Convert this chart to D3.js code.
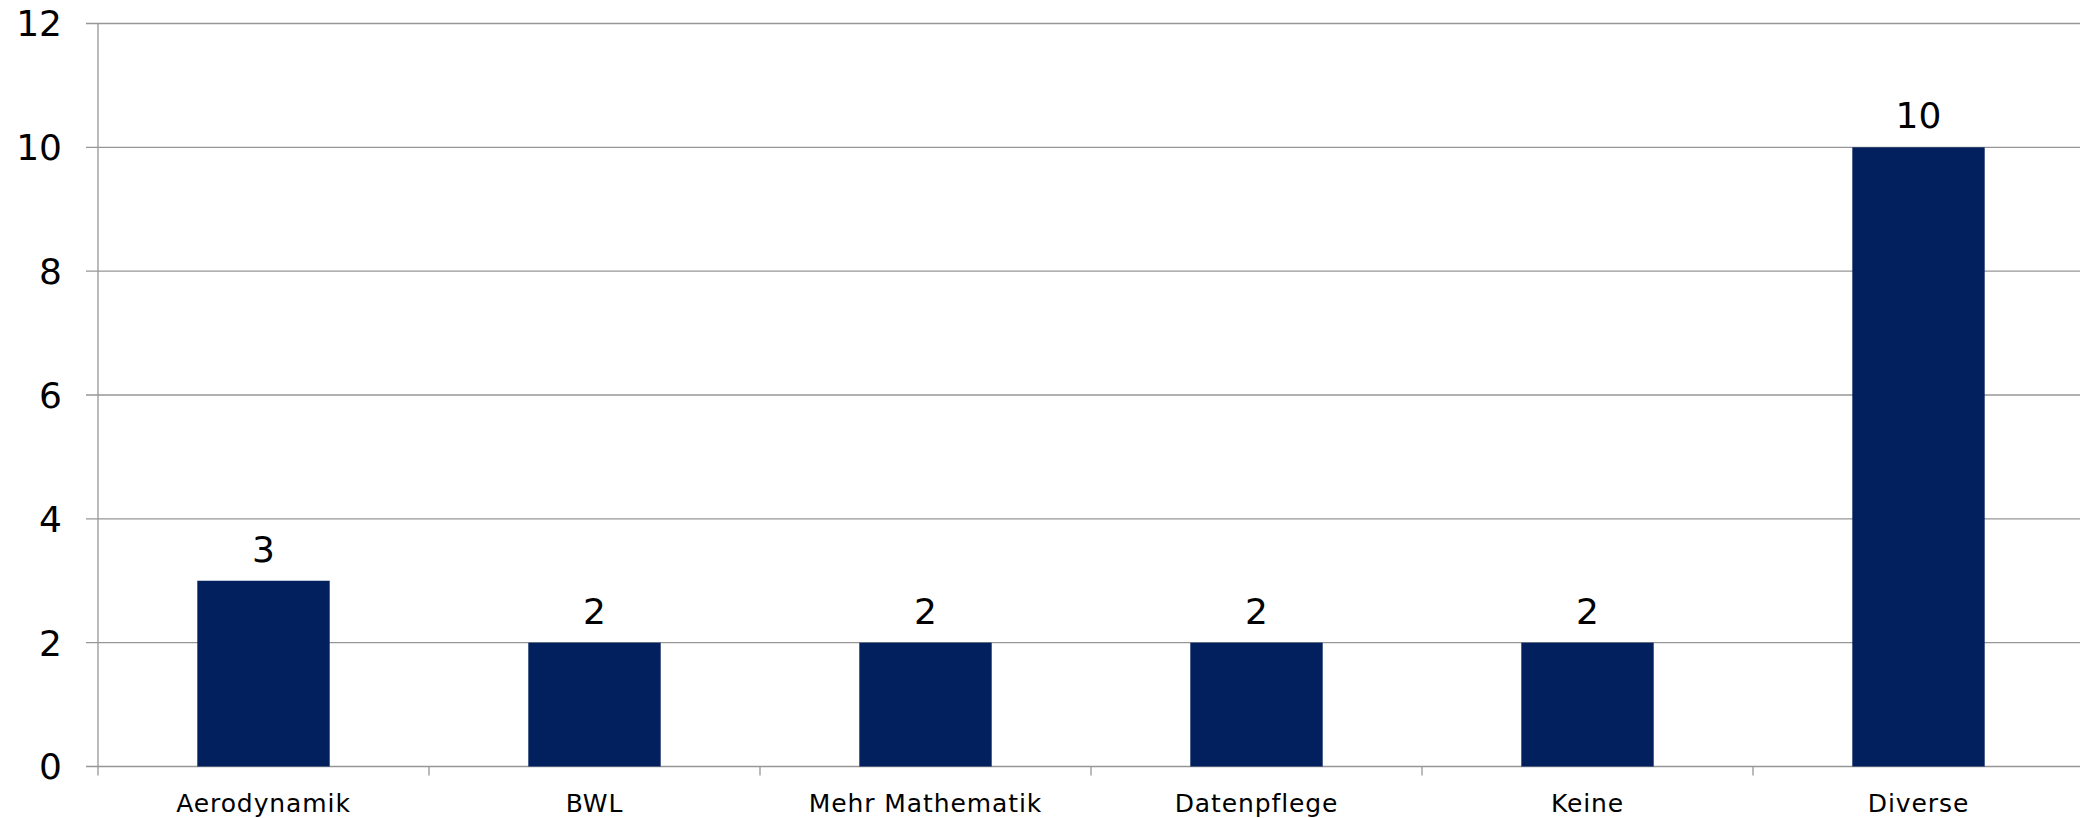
<!DOCTYPE html>
<html><head><meta charset="utf-8">
<script src="https://cdn.jsdelivr.net/npm/d3@7"></script>
<style>
html,body{margin:0;padding:0;background:#fff;overflow:hidden}
text{font-family:"DejaVu Sans",Verdana,sans-serif;fill:#000}
</style></head>
<body>
<svg id="c" width="2080" height="818"></svg>
<script>
const categories = ["Aerodynamik","BWL","Mehr Mathematik","Datenpflege","Keine","Diverse"];
const values = [3,2,2,2,2,10];
const yTicks = [0,2,4,6,8,10,12];

(function(){
const svg = d3.select("#c");
const mLeft = 98, mRight = 2084, mTop = 23.5, mBottom = 766.5;
const gridColor = "#969696";

const x = d3.scaleBand().domain(categories).range([mLeft, mRight]).paddingInner(0.6).paddingOuter(0.3);
const xb = d3.scaleBand().domain(categories).range([mLeft, mRight]);
const y = d3.scaleLinear().domain([0,12]).range([mBottom, mTop]);

svg.append("g").selectAll("line").data(yTicks).join("line")
  .attr("x1", mLeft-12).attr("x2", 2080)
  .attr("y1", d=>y(d)).attr("y2", d=>y(d))
  .attr("stroke", gridColor).attr("stroke-width", 1.3);

svg.append("line").attr("x1", mLeft).attr("x2", mLeft).attr("y1", mTop).attr("y2", mBottom+9)
  .attr("stroke", gridColor).attr("stroke-width", 1.3);

svg.append("g").selectAll("line").data(categories.slice(1)).join("line")
  .attr("x1", d=>xb(d)).attr("x2", d=>xb(d))
  .attr("y1", mBottom).attr("y2", mBottom+9)
  .attr("stroke", gridColor).attr("stroke-width", 1.3);

svg.append("g").selectAll("text").data(yTicks).join("text")
  .attr("x", 62).attr("y", d=>y(d)).attr("dy", "0.36em")
  .attr("text-anchor", "end").attr("font-size", 36).text(d=>d);

svg.append("g").selectAll("rect").data(values).join("rect")
  .attr("x", (d,i)=>x(categories[i])).attr("width", x.bandwidth())
  .attr("y", d=>y(d)).attr("height", d=>mBottom - y(d))
  .attr("fill", "#02205e");

svg.append("g").selectAll("text").data(values).join("text")
  .attr("x", (d,i)=>x(categories[i]) + x.bandwidth()/2)
  .attr("y", d=>y(d) - 19)
  .attr("text-anchor", "middle").attr("font-size", 36).text(d=>d);

svg.append("g").selectAll("text").data(categories).join("text")
  .attr("x", d=>xb(d) + xb.bandwidth()/2).attr("y", 812)
  .attr("text-anchor", "middle").attr("font-size", 25)
  .attr("letter-spacing", "0.9px").text(d=>d);
})();
</script>
</body></html>
